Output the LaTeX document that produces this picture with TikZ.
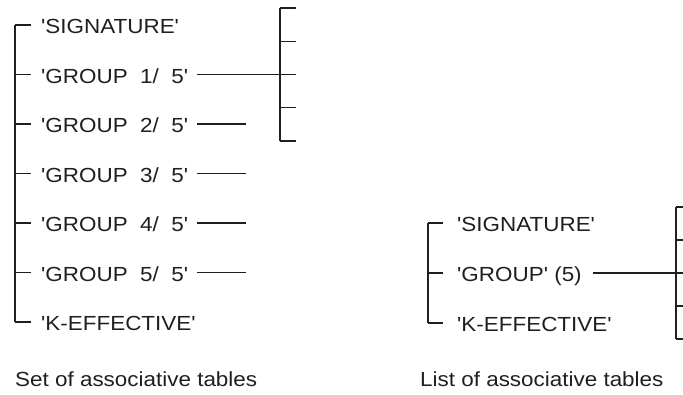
\documentclass[tikz,border=0pt]{standalone}
\usepackage{fontspec}
\newfontfamily\lab{Liberation Sans}[FakeStretch=1.1]
\begin{document}
\begin{tikzpicture}[x=1pt,y=-1pt,
  every node/.style={font=\lab\fontsize{20.4}{24}\selectfont,text=black!88},
  lbl/.style={anchor=west,inner sep=0pt,text height=14.6pt,text depth=0pt},
  captxt/.style={anchor=base west,inner sep=0pt},
  ln/.style={line width=1.4pt,black!88}]
\useasboundingbox (0,0) rectangle (683,395);
% ---------- left diagram ----------
\foreach \n/\y/\t in {s/25/{'SIGNATURE'},g1/74.5/{'GROUP\ \ 1/\ \ 5'},g2/124/{'GROUP\ \ 2/\ \ 5'},g3/173.5/{'GROUP\ \ 3/\ \ 5'},g4/223/{'GROUP\ \ 4/\ \ 5'},g5/272.5/{'GROUP\ \ 5/\ \ 5'},k/322/{'K-EFFECTIVE'}}{
  \node[lbl] (\n) at (41,\y+1.5) {\t};
  \coordinate (b\n) at (15,\y);
  \coordinate (t\n) at (31,\y);
  \draw[ln] (b\n) -- (t\n);
}
\draw[ln] (bs) -- (bk);
% right bracket of first diagram
\coordinate (rt) at (280,8);
\coordinate (rb) at (280,141);
\draw[ln] (rt) -- (rb);
\foreach \y in {8,41.25,74.5,107.75,141}{
  \draw[ln] (280,\y) -- (296,\y);
}
\coordinate (g1a) at (197,74.5);
\coordinate (g1b) at (280,74.5);
\draw[ln] (g1a) -- (g1b);
\foreach \n/\y in {g2/124,g3/173.5,g4/223,g5/272.5}{
  \coordinate (\n a) at (197,\y);
  \coordinate (\n b) at (246,\y);
  \draw[ln] (\n a) -- (\n b);
}
\node[captxt] (c1) at (15,387) {Set of associative tables};
% ---------- right diagram ----------
\foreach \n/\y/\t in {S/223/{'SIGNATURE'},G/273/{'GROUP' (5)},K/323/{'K-EFFECTIVE'}}{
  \node[lbl] (\n) at (457,\y+1.5) {\t};
  \coordinate (b\n) at (428,\y);
  \coordinate (t\n) at (443,\y);
  \draw[ln] (b\n) -- (t\n);
}
\draw[ln] (bS) -- (bK);
\coordinate (Rt) at (676,207);
\coordinate (Rb) at (676,339);
\draw[ln] (Rt) -- (Rb);
\foreach \y in {207,240,273,306,339}{
  \draw[ln] (676,\y) -- (683,\y);
}
\coordinate (Ga) at (593,273);
\coordinate (Gb) at (676,273);
\draw[ln] (Ga) -- (Gb);
\node[captxt] (c2) at (420,387) {List of associative tables};
\end{tikzpicture}
\end{document}
